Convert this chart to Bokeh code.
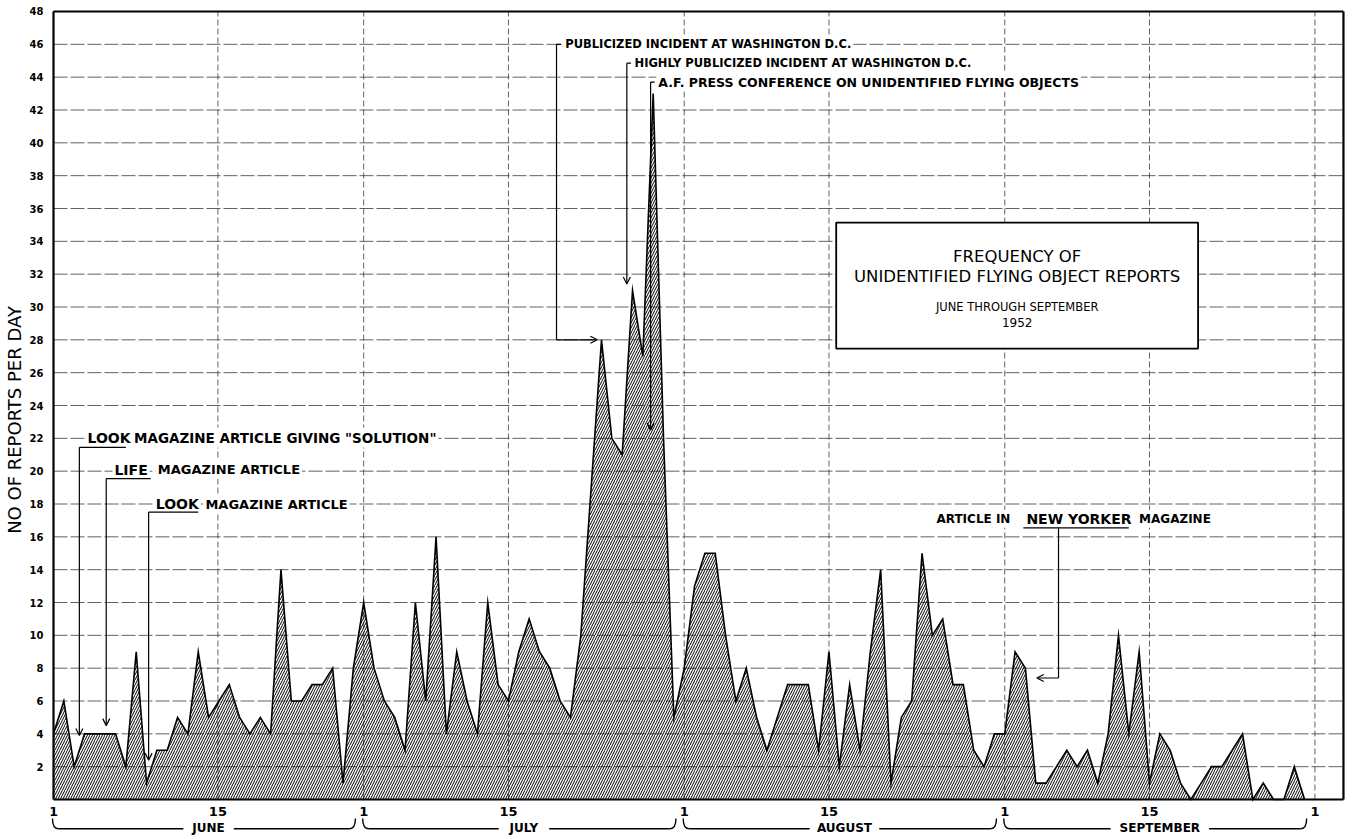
import numpy as np
from bokeh.plotting import figure
from bokeh.models import Range1d, FixedTicker, Arrow, OpenHead
from bokeh.embed import file_html
from bokeh.resources import INLINE
from bokeh.core.properties import value

# ---------------- data (reports per day) ----------------
june_reports = [4, 6, 2, 4, 4, 4, 4, 2, 9, 1, 3, 3, 5, 4, 9, 5, 6, 7, 5, 4,
                5, 4, 14, 6, 6, 7, 7, 8, 1, 8]
july_reports = [12, 8, 6, 5, 3, 12, 6, 16, 4, 9, 6, 4, 12, 7, 6, 9, 11, 9, 8, 6,
                5, 10, 19, 28, 22, 21, 31, 27, 43, 22, 5]
august_reports = [8, 13, 15, 15, 10, 6, 8, 5, 3, 5, 7, 7, 7, 3, 9, 2, 7, 3, 9, 14,
                  1, 5, 6, 15, 10, 11, 7, 7, 3, 2, 4]
september_reports = [4, 9, 8, 1, 1, 2, 3, 2, 3, 1, 4, 10, 4, 9, 1, 4, 3, 1, 0, 1,
                     2, 2, 3, 4, 0, 1, 0, 0, 2, 0]

month_names = ["JUNE", "JULY", "AUGUST", "SEPTEMBER"]
month_lengths = [30, 31, 31, 30]
y_tick_values = list(range(2, 50, 2))
x_tick_labels = ["1", "15", "1", "15", "1", "15", "1", "15", "1"]
# day offsets (0 = June 1) where the original draws its "1"/"15" lines
x_tick_days = [0, 15.9, 30, 44, 61, 75, 92, 106, 122]

title_lines = ["FREQUENCY OF", "UNIDENTIFIED FLYING OBJECT REPORTS",
               "JUNE THROUGH SEPTEMBER", "1952"]

reports = june_reports + july_reports + august_reports + september_reports
day = list(range(len(reports)))
month_start = list(np.cumsum([0] + month_lengths))

# ---------------- figure ----------------
X_END = 124.76
p = figure(width=1353, height=839, output_backend="svg", toolbar_location=None,
           x_range=Range1d(-0.29, 125.73), y_range=Range1d(-2.436, 48.67),
           x_axis_location=None, min_border_left=50, min_border_right=0,
           min_border_top=0, min_border_bottom=0,
           background_fill_color="white", border_fill_color="white")
p.grid.visible = False
p.outline_line_color = None

ya = p.yaxis[0]
ya.ticker = FixedTicker(ticks=y_tick_values)
ya.axis_line_color = None
ya.major_tick_line_color = None
ya.minor_tick_line_color = None
ya.major_tick_out = 0
ya.major_tick_in = 0
ya.minor_tick_out = 0
ya.minor_tick_in = 0
ya.major_label_text_font = "DejaVu Sans"
ya.major_label_text_font_style = "bold"
ya.major_label_text_font_size = "10px"
ya.major_label_text_color = "black"
ya.major_label_standoff = 7
ya.axis_label = "NO OF REPORTS PER DAY"
ya.axis_label_text_font = "DejaVu Sans"
ya.axis_label_text_font_style = "normal"
ya.axis_label_text_font_size = "18px"
ya.axis_label_text_color = "black"
ya.axis_label_standoff = 2

FONT = value("DejaVu Sans")

# grid
hy = [v for v in y_tick_values if v < 48]
p.segment(x0=[0] * len(hy), x1=[X_END] * len(hy), y0=hy, y1=hy,
          line_color="#3a3a3a", line_width=0.8, line_dash="14 3")
vx = [d for d in x_tick_days if d > 0]
p.segment(x0=vx, x1=vx, y0=[0] * len(vx), y1=[48] * len(vx),
          line_color="#3a3a3a", line_width=0.8, line_dash="6 3")

# data
p.varea(x=day, y1=[0] * len(day), y2=reports, fill_alpha=0,
        hatch_pattern="/", hatch_color="black", hatch_scale=5, hatch_weight=1.0)
p.line(x=day, y=reports, line_color="black", line_width=1.6, line_join="miter")

# frame
p.segment(x0=[0, 0, X_END, 0], y0=[0, 0, 0, 48], x1=[0, X_END, X_END, X_END], y1=[48, 0, 48, 48],
          line_color="black", line_width=2.2)

def put_text(xs, ys, texts, size, bold=True, align="left", bg=True):
    kw = dict(x=xs, y=ys, text=texts, text_font=FONT, text_font_size=value(size),
              text_font_style="bold" if bold else "normal", text_color="black",
              text_align=align, text_baseline="middle")
    if bg:
        kw.update(background_fill_color="white", padding=2)
    p.text(**kw)

def arrow(x0, y0, x1, y1):
    p.add_layout(Arrow(end=OpenHead(size=7, line_width=1.2, line_color="black"),
                       x_start=x0, y_start=y0, x_end=x1, y_end=y1,
                       line_color="black", line_width=1.2))

# x tick labels, month braces
put_text(x_tick_days, [-0.72] * len(x_tick_days), x_tick_labels, "13px", align="center", bg=False)
for i, name in enumerate(month_names):
    s = month_start[i] - 0.1
    e = month_start[i + 1] - 0.8
    c = (month_start[i] + month_start[i + 1]) / 2
    half = (len(name) * 4.8 + 6) / 10.34
    yb = -1.78
    p.segment(x0=[s + 0.6, c + half], x1=[c - half, e - 0.6], y0=[yb, yb], y1=[yb, yb],
              line_color="black", line_width=1.4)
    p.quadratic(x0=[s, e - 0.6], y0=[-1.15, yb], x1=[s + 0.6, e], y1=[yb, -1.15],
                cx=[s, e], cy=[yb, yb], line_color="black", line_width=1.4)
    put_text([c], [-1.74], [name], "12px", align="center", bg=False)

# ---- event annotations (left) ----
put_text([3.1], [22.05], ["LOOK"], "14px")
put_text([7.6], [22.05], ['MAGAZINE ARTICLE GIVING "SOLUTION"'], "13.5px")
p.line([2.5, 7.0], [21.45, 21.45], line_color="black", line_width=1.3)
arrow(2.5, 21.45, 2.5, 3.9)

put_text([5.7], [20.1], ["LIFE"], "14px")
put_text([9.9], [20.1], ["MAGAZINE ARTICLE"], "13px")
p.line([5.1, 9.4], [19.55, 19.55], line_color="black", line_width=1.3)
arrow(5.1, 19.55, 5.1, 4.5)

put_text([9.7], [18.0], ["LOOK"], "14px")
put_text([14.5], [18.0], ["MAGAZINE ARTICLE"], "13px")
p.line([9.2, 14.0], [17.5, 17.5], line_color="black", line_width=1.3)
arrow(9.2, 17.5, 9.2, 2.4)

# ---- event annotations (top) ----
put_text([49.3], [46.0], ["PUBLICIZED INCIDENT AT WASHINGTON D.C."], "11.5px")
p.line([49.1, 48.65, 48.65], [46.0, 46.0, 28.0], line_color="black", line_width=1.2)
arrow(48.65, 28.0, 52.6, 28.0)

put_text([56.0], [44.85], ["HIGHLY PUBLICIZED INCIDENT AT WASHINGTON D.C."], "11.5px")
p.line([55.85, 55.45], [44.85, 44.85], line_color="black", line_width=1.2)
arrow(55.45, 44.85, 55.45, 31.4)

put_text([58.3], [43.7], ["A.F. PRESS CONFERENCE ON UNIDENTIFIED FLYING OBJECTS"], "12.5px")
p.line([58.15, 57.75], [43.7, 43.7], line_color="black", line_width=1.2)
arrow(57.75, 43.7, 57.75, 22.5)

# ---- event annotation (September) ----
put_text([85.2], [17.1], ["ARTICLE IN"], "12px")
put_text([93.9], [17.1], ["NEW YORKER"], "14px")
put_text([104.8], [17.1], ["MAGAZINE"], "12px")
p.line([93.8, 104.0], [16.55, 16.55], line_color="black", line_width=1.3)
p.line([97.2, 97.2], [16.55, 7.4], line_color="black", line_width=1.2)
arrow(97.2, 7.4, 95.1, 7.4)

# ---- title box ----
p.quad(left=[75.7], right=[110.7], bottom=[27.47], top=[35.14],
       fill_color="white", line_color="black", line_width=1.8)
cx = 93.2
put_text([cx, cx], [33.1, 31.85], title_lines[:2], "16.5px", bold=False, align="center", bg=False)
put_text([cx], [30.0], [title_lines[2]], "11.5px", bold=False, align="center", bg=False)
put_text([cx], [29.05], [title_lines[3]], "12px", bold=False, align="center", bg=False)

open("out.html", "w").write(file_html(p, INLINE))
